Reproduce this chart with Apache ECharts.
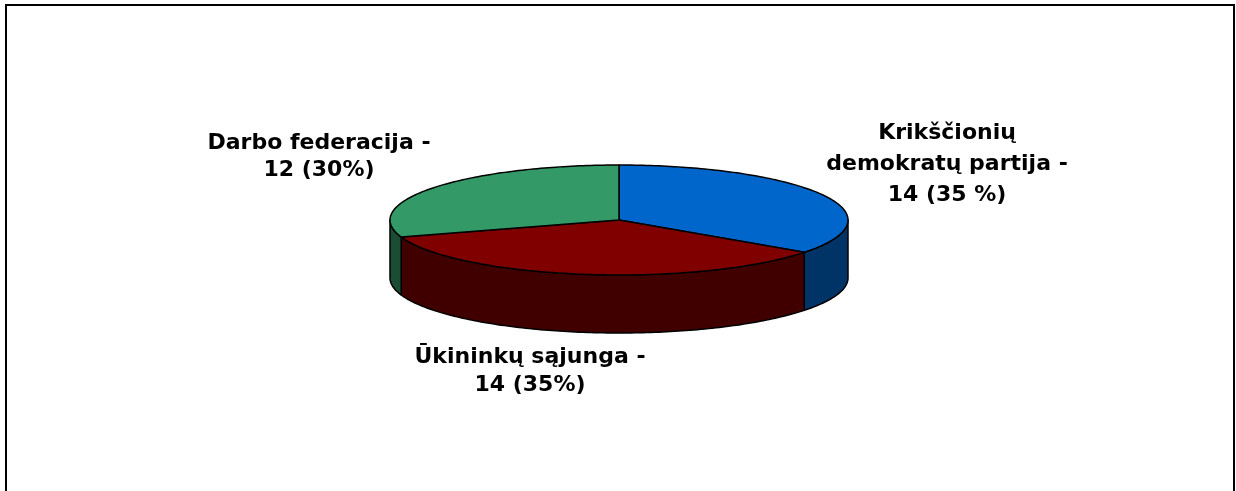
<!DOCTYPE html>
<html>
<head>
<meta charset="utf-8">
<script src="https://cdn.jsdelivr.net/npm/echarts@6/dist/echarts.min.js"></script>
<style>
html,body{margin:0;padding:0;background:#fff;}
#chart{width:1236px;height:491px;}
</style>
</head>
<body>
<div id="chart"></div>
<script>
// ---- data ----
var categories = ['Krikščionių demokratų partija', 'Ūkininkų sąjunga', 'Darbo federacija'];
var values = [14, 14, 12];
var percentLabels = ['35 %', '35%', '30%'];
var labelTexts = [
  'Krikščionių\ndemokratų partija -\n14 (35 %)',
  'Ūkininkų sąjunga -\n14 (35%)',
  'Darbo federacija -\n12 (30%)'
];

// ---- style / layout ----
var topColors = ['#0066CC', '#800000', '#339966'];
var sideColors = ['#003366', '#400000', '#1A4D33'];
var labelAnchors = [[947, 164], [530, 371], [319, 157]];
var labelLineHeights = [31, 28, 27];
var pieCenter = [619, 220];
var rx = 229, ry = 55, depth = 58;

var total = values.reduce(function (a, b) { return a + b; }, 0);

function pt(theta, dy) {
  var r = theta * Math.PI / 180;
  return [pieCenter[0] + rx * Math.sin(r), pieCenter[1] - ry * Math.cos(r) + (dy || 0)];
}

function renderItem(params, api) {
  var i = params.dataIndex;
  var before = 0;
  for (var k = 0; k < i; k++) before += values[k];
  var a0 = before / total * 360;
  var a1 = (before + api.value(1)) / total * 360;
  var children = [];

  // side (front-facing outer wall only: 90..270 deg)
  var s0 = Math.max(a0, 90), s1 = Math.min(a1, 270);
  if (s1 > s0) {
    var sp = [];
    for (var t = s0; t < s1; t += 1) sp.push(pt(t, 0));
    sp.push(pt(s1, 0));
    for (var t2 = s1; t2 > s0; t2 -= 1) sp.push(pt(t2, depth));
    sp.push(pt(s0, depth));
    children.push({
      type: 'polygon', z2: 1,
      shape: { points: sp },
      style: { fill: sideColors[i], stroke: '#000', lineWidth: 1.5, lineJoin: 'round' }
    });
  }
  // top sector
  var tp = [pieCenter.slice()];
  for (var t3 = a0; t3 < a1; t3 += 1) tp.push(pt(t3, 0));
  tp.push(pt(a1, 0));
  children.push({
    type: 'polygon', z2: 2,
    shape: { points: tp },
    style: { fill: topColors[i], stroke: '#000', lineWidth: 1.5, lineJoin: 'round' }
  });
  // label
  children.push({
    type: 'text', z2: 3,
    style: {
      text: labelTexts[i],
      x: labelAnchors[i][0], y: labelAnchors[i][1],
      align: 'center', verticalAlign: 'middle',
      font: 'bold 22px "DejaVu Sans"',
      lineHeight: labelLineHeights[i],
      fill: '#000'
    }
  });
  return { type: 'group', children: children };
}

var chart = echarts.init(document.getElementById('chart'), null, { renderer: 'canvas' });
chart.setOption({
  animation: false,
  backgroundColor: '#fff',
  graphic: [{
    type: 'rect', silent: true,
    shape: { x: 6, y: 5, width: 1228, height: 520 },
    style: { fill: 'none', stroke: '#000', lineWidth: 2 }
  }],
  series: [{
    type: 'custom',
    coordinateSystem: 'none',
    renderItem: renderItem,
    data: categories.map(function (c, i) { return { name: c, value: [i, values[i], percentLabels[i]] }; })
  }]
});
</script>
</body>
</html>
